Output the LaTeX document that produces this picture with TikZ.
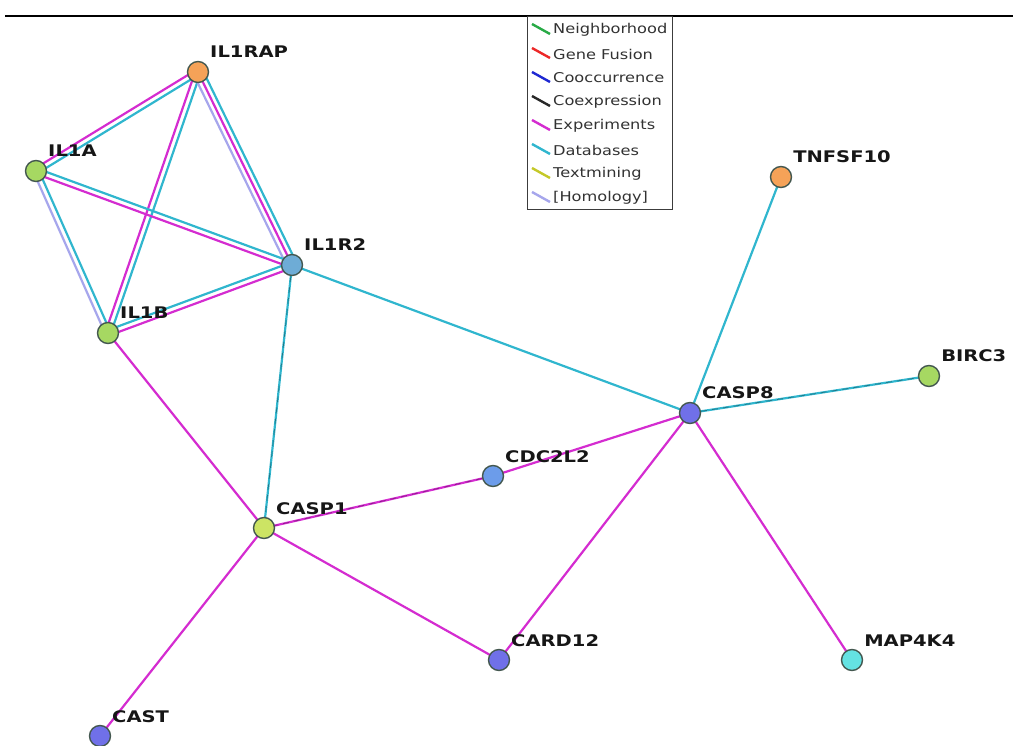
\documentclass[tikz,border=0pt]{standalone}
\usepackage{fontspec}
\newfontfamily\lblfont{DejaVu Sans}
\usetikzlibrary{calc,backgrounds}

% evidence channel colours
\definecolor{nbh}{RGB}{40,170,70}
\definecolor{fusion}{RGB}{236,40,40}
\definecolor{cooc}{RGB}{30,40,210}
\definecolor{coexp}{RGB}{40,40,40}
\definecolor{exper}{RGB}{212,44,208}
\definecolor{dbase}{RGB}{48,182,206}
\definecolor{textm}{RGB}{196,200,40}
\definecolor{homol}{RGB}{166,166,236}
% protein node fills
\definecolor{nOrange}{RGB}{245,162,88}
\definecolor{nGreen}{RGB}{166,216,98}
\definecolor{nLime}{RGB}{204,228,100}
\definecolor{nSteel}{RGB}{110,172,214}
\definecolor{nBlue}{RGB}{108,156,234}
\definecolor{nViolet}{RGB}{112,112,232}
\definecolor{nCyan}{RGB}{100,226,226}
\definecolor{nRim}{RGB}{68,88,80}

\tikzset{
  gene/.style={circle, draw=nRim, line width=1.4pt, minimum size=21pt, inner sep=0pt},
  glabel/.style={anchor=base west, font=\lblfont\bfseries\fontsize{16}{16}\selectfont,
                 text={rgb,255:red,22;green,22;blue,22}, xscale=1.22, inner sep=0pt},
  evid/.style={line width=2.2pt},
  legtext/.style={anchor=west, font=\lblfont\fontsize{13.5}{13.5}\selectfont,
                  text={rgb,255:red,50;green,50;blue,50}, xscale=1.2, inner sep=0pt},
  legline/.style={line width=2.4pt}
}

% one evidence line between two nodes, shifted sideways by #4
\newcommand\link[4]{\draw[evid,#3] ($(#1)!#4!90:(#2)$) -- ($(#2)!#4!-90:(#1)$);}

\begin{document}
\begin{tikzpicture}[x=1pt,y=-1pt]
\useasboundingbox (0,0) rectangle (1013,746);

% proteins
\node[gene, fill=nOrange] (IL1RAP)  at (198,72)  {};
\node[gene, fill=nGreen]  (IL1A)    at (36,171)  {};
\node[gene, fill=nSteel]  (IL1R2)   at (292,265) {};
\node[gene, fill=nGreen]  (IL1B)    at (108,333) {};
\node[gene, fill=nOrange] (TNFSF10) at (781,177) {};
\node[gene, fill=nGreen]  (BIRC3)   at (929,376) {};
\node[gene, fill=nViolet] (CASP8)   at (690,413) {};
\node[gene, fill=nBlue]   (CDC2L2)  at (493,476) {};
\node[gene, fill=nLime]   (CASP1)   at (264,528) {};
\node[gene, fill=nViolet] (CARD12)  at (499,660) {};
\node[gene, fill=nCyan]   (MAP4K4)  at (852,660) {};
\node[gene, fill=nViolet] (CAST)    at (100,736) {};

% protein names
\foreach \g in {IL1RAP,IL1A,IL1R2,IL1B,TNFSF10,BIRC3,CASP8,CDC2L2,CASP1,CARD12,MAP4K4,CAST}
  \node[glabel] (\g-name) at ($(\g)+(12,-14)$) {\g};

% evidence links
\begin{scope}[on background layer]
  \link{IL1RAP}{IL1A}{exper}{-2.7pt}
  \link{IL1RAP}{IL1A}{dbase}{2.7pt}
  \link{IL1RAP}{IL1B}{exper}{-2.7pt}
  \link{IL1RAP}{IL1B}{dbase}{2.7pt}
  \link{IL1RAP}{IL1R2}{homol}{-5pt}
  \link{IL1RAP}{IL1R2}{exper}{0pt}
  \link{IL1RAP}{IL1R2}{dbase}{5pt}
  \link{IL1A}{IL1R2}{dbase}{2.7pt}
  \link{IL1A}{IL1R2}{exper}{-2.7pt}
  \link{IL1A}{IL1B}{homol}{-2.7pt}
  \link{IL1A}{IL1B}{dbase}{2.7pt}
  \link{IL1B}{IL1R2}{dbase}{2.7pt}
  \link{IL1B}{IL1R2}{exper}{-2.7pt}
  \link{IL1B}{CASP1}{exper}{0pt}
  \link{IL1R2}{CASP1}{dbase}{0pt}
  \link{IL1R2}{CASP8}{dbase}{0pt}
  \link{CASP8}{TNFSF10}{dbase}{0pt}
  \link{CASP8}{BIRC3}{dbase}{0pt}
  \link{CASP8}{CDC2L2}{exper}{0pt}
  \link{CDC2L2}{CASP1}{exper}{0pt}
  \link{CASP8}{CARD12}{exper}{0pt}
  \link{CASP8}{MAP4K4}{exper}{0pt}
  \link{CASP1}{CARD12}{exper}{0pt}
  \link{CASP1}{CAST}{exper}{0pt}
  % faint dashed overlay on a few links
  \foreach \a/\b in {IL1R2/CASP1,CASP8/BIRC3,CDC2L2/CASP1}
    \draw[line width=0.7pt, dash pattern=on 6pt off 5pt, black, opacity=0.35] (\a) -- (\b);
\end{scope}

% header rule
\draw[line width=2.2pt, black] (5,16) -- (1013,16);

% legend
\draw[line width=0.9pt, draw={rgb,255:red,60;green,60;blue,60}] (527,16) rectangle (672,209);
\foreach \c/\t [count=\i from 0] in {nbh/Neighborhood, fusion/Gene Fusion, cooc/Cooccurrence,
    coexp/Coexpression, exper/Experiments, dbase/Databases, textm/Textmining, homol/[Homology]} {
  \coordinate (leg\i) at (531, 30+24*\i);
  \draw[legline, \c] ($(leg\i)+(1,-6)$) -- ($(leg\i)+(19,4)$);
  \node[legtext] (legt\i) at ($(leg\i)+(22,0)$) {\t};
}
\end{tikzpicture}
\end{document}
